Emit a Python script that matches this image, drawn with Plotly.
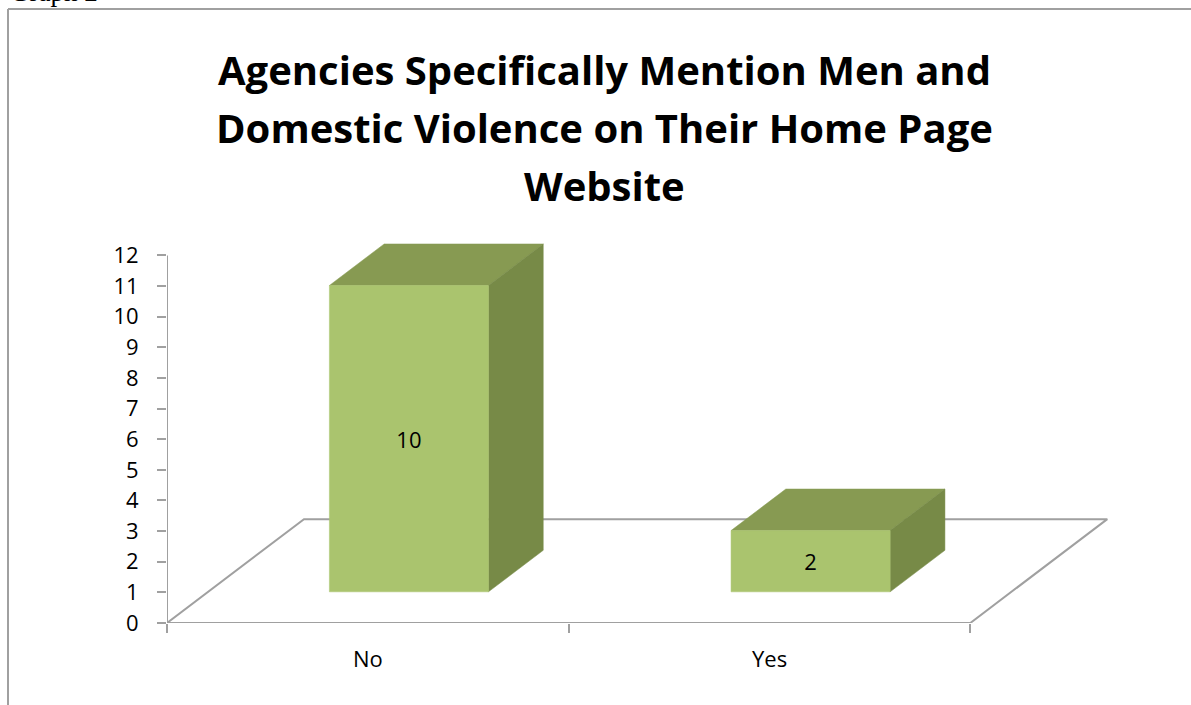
import plotly.graph_objects as go

# ---- data ----
categories = ["No", "Yes"]
values = [10, 2]
y_ticks = list(range(0, 13))
title_lines = [
    "Agencies Specifically Mention Men and",
    "Domestic Violence on Their Home Page",
    "Website",
]
header_text = "Graph 2"

# ---- styling / geometry ----
W, H = 1191, 705
ML, MR, MT, MB = 167, 60, 237, 82
X_RANGE = [0, 2.4]
Y_RANGE = [0, 12.6]
DX, DY = 0.341, 3.39          # depth offset of the 3D floor (data units)
BAR_W = 0.396
D0, D1 = 0.3, 0.7             # bar depth placement
FRONT, TOP, SIDE = "#AAC46E", "#879A52", "#778A47"
GREY = "#A0A0A0"
FONT = "'Open Sans', Lato, sans-serif"
LABEL_SIZE = 22
TITLE_SIZE = 40

pw = W - ML - MR
ph = H - MT - MB


def paper_x(px):
    return (px - ML) / pw


def paper_y(py):
    return (H - MB - py) / ph


fig = go.Figure()

# floor (parallelogram)
n = len(categories)
fig.add_trace(go.Scatter(
    x=[0, DX, n + DX, n, 0], y=[0, DY, DY, 0, 0],
    mode="lines", line=dict(color=GREY, width=2),
    hoverinfo="skip", showlegend=False))

# 3D bars
for i, (cat, v) in enumerate(zip(categories, values)):
    x0 = i + (1 - BAR_W) / 2
    x1 = x0 + BAR_W
    fx0, fx1 = x0 + D0 * DX, x1 + D0 * DX
    bx0, bx1 = x0 + D1 * DX, x1 + D1 * DX
    fy0, by0 = D0 * DY, D1 * DY
    fy1, by1 = fy0 + v, by0 + v
    # top face
    fig.add_trace(go.Scatter(
        x=[fx0, fx1, bx1, bx0, fx0], y=[fy1, fy1, by1, by1, fy1],
        mode="lines", fill="toself", fillcolor=TOP,
        line=dict(color=TOP, width=0.5), hoverinfo="skip", showlegend=False))
    # side face
    fig.add_trace(go.Scatter(
        x=[fx1, bx1, bx1, fx1, fx1], y=[fy0, by0, by1, fy1, fy0],
        mode="lines", fill="toself", fillcolor=SIDE,
        line=dict(color=SIDE, width=0.5), hoverinfo="skip", showlegend=False))
    # front face
    fig.add_trace(go.Scatter(
        x=[fx0, fx1, fx1, fx0, fx0], y=[fy0, fy0, fy1, fy1, fy0],
        mode="lines", fill="toself", fillcolor=FRONT,
        line=dict(color=FRONT, width=0.5), hoverinfo="skip", showlegend=False))
    # value label
    fig.add_trace(go.Scatter(
        x=[(fx0 + fx1) / 2], y=[fy0 + v / 2 - 0.12], mode="text",
        text=[str(v)], textfont=dict(family=FONT, size=LABEL_SIZE, color="black"),
        hoverinfo="skip", showlegend=False, cliponaxis=False))
    # category label
    fig.add_annotation(x=i + 0.5, xref="x", y=paper_y(658), yref="paper",
                       yanchor="middle", text=cat, showarrow=False,
                       font=dict(family=FONT, size=LABEL_SIZE, color="black"))

# y axis line
fig.add_shape(type="line", xref="x", yref="y", x0=0, x1=0, y0=0,
              y1=max(y_ticks), line=dict(color=GREY, width=2))

# title lines
for line, py in zip(title_lines, [69, 127, 185]):
    fig.add_annotation(x=paper_x(604), xref="paper", y=paper_y(py),
                       yref="paper", yanchor="middle", text="<b>%s</b>" % line,
                       showarrow=False,
                       font=dict(family=FONT, size=TITLE_SIZE, color="black"))

# header text (cut off at the top, as on the original page)
fig.add_annotation(x=paper_x(8), xref="paper", xanchor="left",
                   y=paper_y(9.5), yref="paper", yanchor="bottom",
                   text=header_text, showarrow=False,
                   font=dict(family="'Liberation Serif', serif", size=27,
                             color="black"))

# page border (top and left)
fig.add_shape(type="line", xref="paper", yref="paper",
              x0=paper_x(8), x1=paper_x(W + 5), y0=paper_y(9), y1=paper_y(9),
              line=dict(color=GREY, width=2))
fig.add_shape(type="line", xref="paper", yref="paper",
              x0=paper_x(8), x1=paper_x(8), y0=paper_y(9), y1=paper_y(H + 5),
              line=dict(color=GREY, width=2))

fig.update_layout(
    template="none",
    width=W, height=H,
    margin=dict(l=ML, r=MR, t=MT, b=MB, pad=0),
    paper_bgcolor="white", plot_bgcolor="rgba(0,0,0,0)",
    showlegend=False,
    xaxis=dict(range=X_RANGE, tickvals=list(range(n + 1)),
               showticklabels=False, ticks="outside", ticklen=9,
               tickwidth=2, tickcolor=GREY, showgrid=False, zeroline=False,
               showline=False, automargin=False, fixedrange=True),
    yaxis=dict(range=Y_RANGE, tickvals=y_ticks, ticks="outside", ticklen=9,
               tickwidth=2, tickcolor=GREY, showgrid=False, zeroline=False,
               showline=False, automargin=False, ticklabelstandoff=14,
               tickfont=dict(family=FONT, size=LABEL_SIZE, color="black"),
               fixedrange=True),
)

fig.write_html(
    "out.html",
    config={"displayModeBar": False, "staticPlot": True},
    post_script="document.body.style.margin='0';"
                "document.body.style.overflow='hidden';",
)
